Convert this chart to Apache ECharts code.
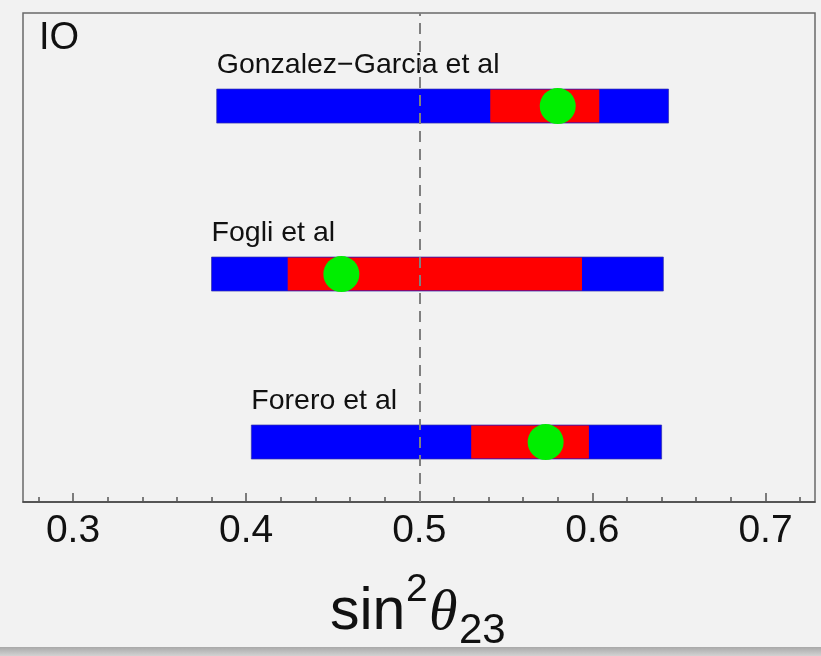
<!DOCTYPE html>
<html>
<head>
<meta charset="utf-8">
<script src="https://cdn.jsdelivr.net/npm/echarts@6/dist/echarts.min.js"></script>
<style>
  html, body { margin: 0; padding: 0; background: #f2f2f2; }
  #chart { width: 821px; height: 656px; }
</style>
</head>
<body>
<div id="chart"></div>
<script>
// Global-fit results for sin^2(theta_23), inverted ordering
const studies = ['Gonzalez\u2212Garcia et al', 'Fogli et al', 'Forero et al'];
const rowPos = [3, 2, 1];
const bestFit = [0.580, 0.455, 0.573];
const low1sigma = [0.541, 0.424, 0.530];
const high1sigma = [0.604, 0.594, 0.598];
const low3sigma = [0.383, 0.380, 0.403];
const high3sigma = [0.644, 0.641, 0.640];
const maximalMixing = 0.5;

// Axis ticks
const majorTicks = [0.3, 0.4, 0.5, 0.6, 0.7];
const minorTicks = [0.28, 0.32, 0.34, 0.36, 0.38, 0.42, 0.44, 0.46, 0.48,
                    0.52, 0.54, 0.56, 0.58, 0.62, 0.64, 0.66, 0.68, 0.72];

const xMin = 0.2711, xMax = 0.7286;
const yMin = 0.643, yMax = 3.554;
const BAR_H = 34;
const FONT = '"Liberation Sans", Arial, Helvetica, sans-serif';

const rangeData = studies.map((name, i) =>
  [low3sigma[i], high3sigma[i], low1sigma[i], high1sigma[i], rowPos[i]]);
const bestData = studies.map((name, i) => [bestFit[i], rowPos[i]]);

const chart = echarts.init(document.getElementById('chart'), null, { renderer: 'canvas' });

const tickStyle = { color: '#555', width: 1.5 };

chart.setOption({
  backgroundColor: '#f2f2f2',
  animation: false,
  grid: {
    left: 23, top: 13, right: 6, bottom: 154,
    show: true, borderColor: '#6a6a6a', borderWidth: 1.5,
    backgroundColor: 'transparent'
  },
  xAxis: [
    {
      type: 'value', min: xMin, max: xMax, position: 'bottom',
      splitLine: { show: false },
      axisLine: { show: true, lineStyle: { color: '#444', width: 1.5 } },
      axisTick: { show: true, inside: true, length: 9, lineStyle: tickStyle,
                  customValues: majorTicks },
      axisLabel: { show: true, customValues: majorTicks, margin: 10,
                   fontSize: 39, color: '#111', fontFamily: FONT,
                   formatter: v => v.toFixed(1) }
    },
    {
      type: 'value', min: xMin, max: xMax, position: 'bottom',
      splitLine: { show: false },
      axisLine: { show: false },
      axisTick: { show: true, inside: true, length: 5, lineStyle: tickStyle,
                  customValues: minorTicks },
      axisLabel: { show: false }
    }
  ],
  yAxis: {
    type: 'value', min: yMin, max: yMax,
    show: false, splitLine: { show: false }
  },
  graphic: [
    {
      type: 'text', left: 39, top: 20,
      style: { text: 'IO', fontSize: 38, fill: '#111', fontFamily: FONT }
    },
    // axis title: sin^2 theta_23
    { type: 'text', x: 330, y: 613,
      style: { text: 'sin', fontSize: 59, fill: '#111', fontFamily: FONT,
               align: 'left', verticalAlign: 'middle' } },
    { type: 'text', x: 406, y: 590,
      style: { text: '2', fontSize: 39, fill: '#111', fontFamily: FONT,
               align: 'left', verticalAlign: 'middle' } },
    { type: 'text', x: 429, y: 614,
      style: { text: '\u03B8', fontSize: 58, fill: '#111', fontStyle: 'italic',
               fontFamily: '"Liberation Serif", "DejaVu Serif", serif',
               align: 'left', verticalAlign: 'middle' } },
    { type: 'text', x: 459, y: 631,
      style: { text: '23', fontSize: 42, fill: '#111', fontFamily: FONT,
               align: 'left', verticalAlign: 'middle' } },
    // bottom shade strip
    { type: 'rect', shape: { x: 0, y: 647, width: 821, height: 9 },
      style: { fill: new echarts.graphic.LinearGradient(0, 0, 0, 1, [
        { offset: 0, color: '#a9a9a9' }, { offset: 1, color: '#d2d2d2' }]) } }
  ],
  series: [
    {
      type: 'line', xAxisIndex: 0, data: [], z: 1,
      markLine: {
        silent: true, symbol: 'none', animation: false,
        label: { show: false },
        lineStyle: { color: '#808080', width: 2, type: [11, 7] },
        data: [{ xAxis: maximalMixing }]
      }
    },
    {
      type: 'custom', xAxisIndex: 0, z: 3,
      data: rangeData,
      renderItem: function (params, api) {
        const y = api.value(4);
        const a3 = api.coord([api.value(0), y]);
        const b3 = api.coord([api.value(1), y]);
        const a1 = api.coord([api.value(2), y]);
        const b1 = api.coord([api.value(3), y]);
        const top = a3[1] - BAR_H / 2;
        return {
          type: 'group',
          children: [
            { type: 'rect',
              shape: { x: a3[0], y: top, width: b3[0] - a3[0], height: BAR_H },
              style: { fill: '#0000ff', stroke: 'rgba(50,50,170,0.7)', lineWidth: 1 } },
            { type: 'rect',
              shape: { x: a1[0], y: top + 0.5, width: b1[0] - a1[0], height: BAR_H - 1 },
              style: { fill: '#ff0000' } },
            { type: 'text', x: a3[0], y: top - 24,
              style: { text: studies[params.dataIndex], fontSize: 28.5, fill: '#111',
                       fontFamily: FONT, align: 'left', verticalAlign: 'middle' } }
          ]
        };
      }
    },
    {
      type: 'scatter', xAxisIndex: 0, z: 4,
      data: bestData, symbol: 'circle', symbolSize: 36,
      itemStyle: { color: '#00ee00', opacity: 1 }
    }
  ]
});
</script>
</body>
</html>
